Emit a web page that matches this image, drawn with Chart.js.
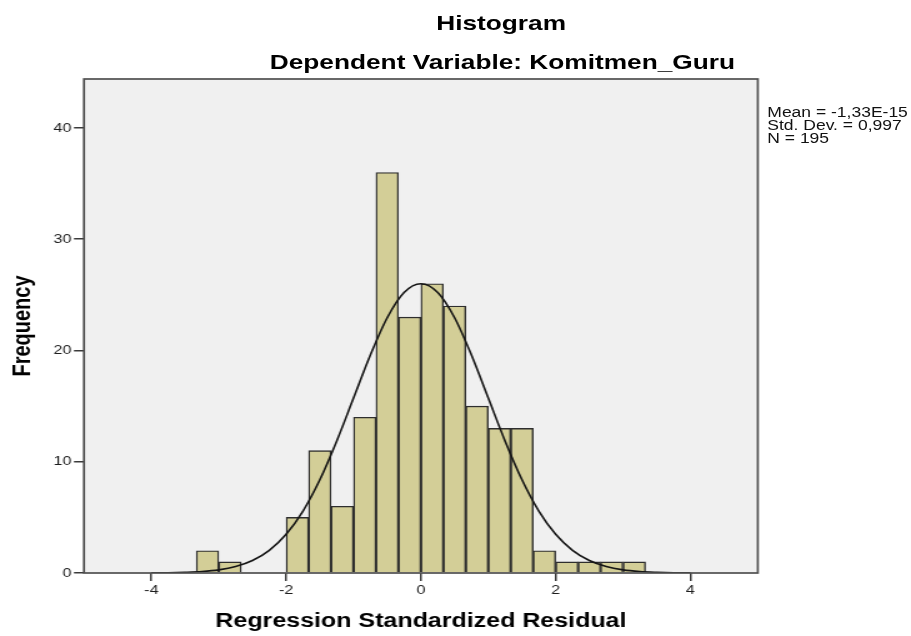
<!DOCTYPE html>
<html>
<head>
<meta charset="utf-8">
<script src="https://cdn.jsdelivr.net/npm/chart.js@4.4.1/dist/chart.umd.min.js"></script>
<style>
    html, body { margin: 0; padding: 0; background: #ffffff; overflow: hidden; }
    /* the reference is a horizontally stretched SPSS picture, so the page is drawn narrow and stretched */
    #stage {
        position: relative; width: 729px; height: 636px;
        transform: scaleX(1.2497); transform-origin: 0 0;
        font-family: "Liberation Sans", Arial, sans-serif; color: #000;
    }
    #histChart { position: absolute; left: 0; top: 0; }
    .ttl { position: absolute; font-weight: bold; font-size: 21px; white-space: nowrap; transform: translate(-50%, -50%); }
    #stats { position: absolute; left: 614px; top: 106px; font-size: 14px; line-height: 13px; white-space: nowrap; color: #111; }
</style>
</head>
<body>
<div id="stage">
    <canvas id="histChart" width="729" height="636" style="width:729px;height:636px"></canvas>
    <div class="ttl" style="left:401px; top:23px">Histogram</div>
    <div class="ttl" style="left:402px; top:62px">Dependent Variable: Komitmen_Guru</div>
    <div id="stats">Mean = -1,33E-15<br>Std. Dev. = 0,997<br>N = 195</div>
</div>
<script>
// Bin midpoints (bin width 1/3) and counts
var binMids = [-3.167, -2.833, -2.5, -2.167, -1.833, -1.5, -1.167, -0.833, -0.5, -0.167,
    0.167, 0.5, 0.833, 1.167, 1.5, 1.833, 2.167, 2.5, 2.833, 3.167];
var binCounts = [2, 1, 0, 0, 5, 11, 6, 14, 36, 23,
    26, 24, 15, 13, 13, 2, 1, 1, 1, 1];

// Normal curve as drawn on the picture
var curveX = [-4, -3.75, -3.5, -3.25, -3, -2.75, -2.5, -2.25, -2, -1.75, -1.5, -1.25, -1, -0.75, -0.5, -0.25,
    0, 0.25, 0.5, 0.75, 1, 1.25, 1.5, 1.75, 2, 2.25, 2.5, 2.75, 3, 3.25, 3.5, 3.75, 4];
var curveY = [0.01, 0.02, 0.06, 0.13, 0.28, 0.58, 1.12, 2.04, 3.48, 5.57, 8.38, 11.85, 15.72, 19.59, 22.94, 25.21,
    26.0, 25.21, 22.94, 19.59, 15.72, 11.85, 8.38, 5.57, 3.48, 2.04, 1.12, 0.58, 0.28, 0.13, 0.06, 0.02, 0.01];

var xTickValues = [-4, -2, 0, 2, 4];
var yTickValues = [0, 10, 20, 30, 40];

window.addEventListener('DOMContentLoaded', function () {
    // grey plot panel and its frame, like SPSS
    var panelPlugin = {
        id: 'panel',
        beforeDatasetsDraw: function (chart) {
            var a = chart.chartArea, ctx = chart.ctx;
            ctx.save();
            ctx.fillStyle = '#f0f0f0';
            ctx.fillRect(a.left, a.top, a.right - a.left, a.bottom - a.top);
            ctx.restore();
        },
        afterDatasetsDraw: function (chart) {
            var a = chart.chartArea, ctx = chart.ctx;
            ctx.save();
            ctx.strokeStyle = '#505050';
            ctx.lineWidth = 1.7;
            ctx.strokeRect(a.left, a.top, a.right - a.left, a.bottom - a.top);
            ctx.restore();
        }
    };

    var barData = binMids.map(function (m, i) { return { x: m, y: binCounts[i] }; });
    var lineData = curveX.map(function (v, i) { return { x: v, y: curveY[i] }; });

    new Chart(document.getElementById('histChart'), {
        type: 'bar',
        data: {
            datasets: [{
                type: 'line',
                data: lineData,
                borderColor: '#151515',
                borderWidth: 1.6,
                pointRadius: 0,
                cubicInterpolationMode: 'monotone',
                fill: false,
                order: 0
            }, {
                type: 'bar',
                data: barData,
                backgroundColor: '#d3ce97',
                borderColor: '#2e2e2e',
                borderWidth: 1.4,
                barPercentage: 1,
                categoryPercentage: 1,
                order: 1
            }]
        },
        options: {
            responsive: false,
            animation: false,
            layout: { padding: { left: 0, top: 79, right: 122.6, bottom: 0 } },
            plugins: { legend: { display: false }, tooltip: { enabled: false } },
            scales: {
                x: {
                    type: 'linear',
                    min: -5,
                    max: 5,
                    offset: false,
                    afterBuildTicks: function (scale) {
                        scale.ticks = xTickValues.map(function (v) { return { value: v }; });
                    },
                    afterFit: function (scale) { scale.height = 63; },
                    grid: { display: true, drawOnChartArea: false, drawTicks: true, tickLength: 8, color: '#3a3a3a', lineWidth: 1.5, offset: false },
                    border: { display: false },
                    ticks: {
                        autoSkip: false, maxRotation: 0, padding: 2, color: '#1e1e1e',
                        font: { family: '"Liberation Sans", Arial, sans-serif', size: 13 },
                        callback: function (v) { return String(v); }
                    },
                    title: {
                        display: true, text: 'Regression Standardized Residual', color: '#000',
                        font: { family: '"Liberation Sans", Arial, sans-serif', size: 20, weight: 'bold' },
                        padding: { top: 0, bottom: 3 }
                    }
                },
                y: {
                    min: 0,
                    max: 44.4,
                    afterBuildTicks: function (scale) {
                        scale.ticks = yTickValues.map(function (v) { return { value: v }; });
                    },
                    afterFit: function (scale) { scale.width = 67.2; },
                    grid: { display: true, drawOnChartArea: false, drawTicks: true, tickLength: 8, color: '#3a3a3a', lineWidth: 1.5 },
                    border: { display: false },
                    ticks: {
                        padding: 2, color: '#1e1e1e',
                        font: { family: '"Liberation Sans", Arial, sans-serif', size: 13 },
                        callback: function (v) { return String(v); }
                    },
                    title: {
                        display: true, text: 'Frequency', color: '#000',
                        font: { family: '"Liberation Sans", Arial, sans-serif', size: 20, weight: 'bold' },
                        padding: { top: 6, bottom: 0 }
                    }
                }
            }
        },
        plugins: [panelPlugin]
    });
});
</script>
</body>
</html>
